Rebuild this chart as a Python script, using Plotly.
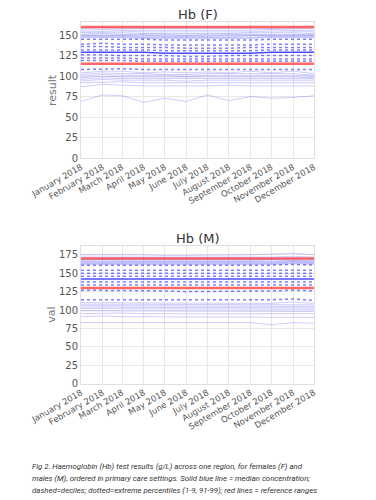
import plotly.graph_objects as go

months = ["2018-01-01", "2018-02-01", "2018-03-01", "2018-04-01", "2018-05-01", "2018-06-01",
          "2018-07-01", "2018-08-01", "2018-09-01", "2018-10-01", "2018-11-01", "2018-12-01"]

# ---- Females: percentiles 1-9, deciles 10-90, percentiles 91-99 ----
f_low = [
    [69, 77, 76, 68, 73, 69, 77, 70, 75, 73, 74, 76],
    [87, 90, 89, 88, 88, 88, 88, 89, 88, 88, 88, 88],
    [92, 93, 93, 92, 92, 92, 92, 92, 92, 92, 92, 92],
    [94, 96, 95, 95, 95, 94, 95, 95, 95, 95, 95, 95],
    [96, 98, 97, 97, 97, 97, 97, 97, 97, 97, 97, 97],
    [98, 100, 99, 99, 99, 99, 99, 99, 99, 99, 99, 98],
    [100, 102, 101, 101, 101, 100, 101, 101, 101, 101, 101, 100],
    [102, 104, 103, 103, 102, 102, 103, 103, 103, 103, 103, 101],
    [104, 106, 106, 104, 105, 104, 105, 104, 106, 104, 106, 103],
]
f_dec = [
    [108, 109, 109, 108, 108, 108, 108, 108, 108, 108, 108, 108],
    [119, 119, 119, 118, 118, 118, 118, 118, 118, 118, 118, 118],
    [122, 122, 122, 121, 121, 121, 121, 121, 121, 121, 121, 121],
    [126, 126, 125, 125, 125, 124, 124, 125, 125, 125, 125, 125],
    [129, 129, 129, 129, 128, 128, 128, 128, 128, 129, 129, 129],
    [132, 132, 132, 132, 131, 131, 131, 131, 131, 132, 132, 132],
    [136, 136, 135, 135, 135, 134, 134, 134, 135, 135, 135, 135],
    [139, 140, 139, 139, 138, 138, 138, 138, 138, 139, 139, 139],
    [145, 145, 145, 145, 144, 144, 144, 144, 144, 145, 145, 145],
]
f_high = [
    [147, 147, 147, 146, 146, 146, 146, 146, 146, 147, 147, 147],
    [148, 148, 148, 147, 147, 147, 147, 147, 147, 148, 148, 148],
    [149, 149, 149, 148, 148, 148, 148, 148, 149, 149, 149, 149],
    [150, 150, 150, 150, 149, 149, 149, 150, 150, 150, 150, 150],
    [151, 152, 151, 151, 151, 150, 151, 151, 151, 151, 151, 151],
    [153, 153, 153, 152, 152, 152, 152, 152, 153, 153, 153, 152],
    [154, 155, 155, 154, 154, 154, 154, 154, 154, 155, 155, 154],
    [156, 157, 156, 156, 156, 156, 156, 156, 156, 157, 156, 156],
    [158, 159, 158, 158, 158, 158, 158, 158, 158, 158, 158, 158],
]
f_ref = [115, 160]

# ---- Males ----
m_low = [
    [83, 83, 83, 83, 82, 82, 82, 83, 83, 80, 83, 82],
    [91, 92, 91, 91, 91, 91, 91, 91, 91, 91, 91, 90],
    [95, 96, 96, 95, 95, 95, 95, 95, 95, 95, 96, 95],
    [99, 99, 99, 99, 98, 98, 98, 99, 99, 99, 99, 98],
    [102, 102, 102, 101, 101, 101, 101, 101, 102, 101, 102, 101],
    [104, 104, 104, 104, 103, 103, 104, 104, 104, 104, 104, 103],
    [106, 106, 106, 106, 105, 105, 106, 106, 106, 106, 106, 105],
    [108, 108, 108, 108, 107, 107, 108, 108, 108, 108, 108, 107],
    [110, 110, 109, 110, 109, 109, 110, 110, 110, 109, 111, 109],
]
m_dec = [
    [114, 114, 114, 114, 113, 113, 113, 113, 114, 114, 115, 113],
    [127, 127, 126, 126, 126, 125, 125, 126, 126, 126, 127, 126],
    [134, 134, 134, 133, 133, 133, 133, 133, 133, 134, 134, 134],
    [138, 138, 138, 137, 137, 137, 137, 137, 137, 138, 138, 138],
    [142, 142, 142, 142, 141, 141, 141, 141, 141, 142, 142, 142],
    [146, 146, 146, 145, 145, 145, 145, 145, 145, 146, 146, 146],
    [150, 150, 150, 149, 149, 149, 149, 149, 149, 150, 150, 150],
    [154, 154, 154, 153, 153, 153, 153, 153, 153, 154, 154, 154],
    [161, 161, 161, 160, 160, 160, 160, 160, 160, 161, 162, 161],
]
m_high = [
    [162, 162, 162, 161, 161, 161, 161, 161, 161, 162, 163, 162],
    [163, 163, 163, 162, 162, 162, 162, 162, 162, 163, 164, 163],
    [164, 164, 164, 163, 163, 163, 163, 163, 164, 164, 165, 164],
    [165, 165, 165, 164, 164, 164, 164, 164, 165, 165, 166, 165],
    [166, 166, 166, 166, 165, 165, 165, 165, 166, 166, 167, 166],
    [167, 168, 167, 167, 167, 166, 166, 167, 167, 168, 168, 167],
    [169, 169, 169, 169, 168, 168, 168, 168, 169, 169, 170, 169],
    [172, 172, 172, 171, 171, 171, 171, 171, 172, 172, 173, 172],
    [175, 175, 176, 175, 174, 174, 174, 174, 175, 176, 177, 175],
]
m_ref = [130, 170]

titles = ["Hb (F)", "Hb (M)"]
ytitles = ["result", "val"]
yranges = [[0, 166], [0, 187]]

caption_lines = [
    "Fig 2. Haemoglobin (Hb) test results (g/L) across one region, for females (F) and",
    "males (M), ordered in primary care settings. Solid blue line = median concentration;",
    "dashed=deciles; dotted=extreme percentiles (1-9, 91-99); red lines = reference ranges",
]

fig = go.Figure()

def add_panel(idx, low, dec, high, ref):
    xa = "x" if idx == 0 else "x2"
    ya = "y" if idx == 0 else "y2"
    for s in low + high:
        fig.add_trace(go.Scatter(x=months, y=s, mode="lines", xaxis=xa, yaxis=ya,
                                 line=dict(color="rgba(0,0,255,0.2)", width=1),
                                 showlegend=False, hoverinfo="skip"))
    for i, s in enumerate(dec):
        if i == 4:
            continue
        fig.add_trace(go.Scatter(x=months, y=s, mode="lines", xaxis=xa, yaxis=ya,
                                 line=dict(color="rgba(0,0,255,0.5)", width=1.5, dash="dot"),
                                 showlegend=False, hoverinfo="skip"))
    fig.add_trace(go.Scatter(x=months, y=dec[4], mode="lines", xaxis=xa, yaxis=ya,
                             line=dict(color="rgba(0,0,255,0.7)", width=1.5),
                             showlegend=False))
    for r in ref:
        fig.add_trace(go.Scatter(x=[months[0], months[-1]], y=[r, r], mode="lines",
                                 xaxis=xa, yaxis=ya,
                                 line=dict(color="rgba(255,0,0,0.6)", width=2.5),
                                 showlegend=False, hoverinfo="skip"))

add_panel(0, f_low, f_dec, f_high, f_ref)
add_panel(1, m_low, m_dec, m_high, m_ref)

W, H = 368, 492
xdom = [0.1984, 0.8315]
ydoms = [[0.695, 0.9715], [0.2364, 0.5163]]
title_centers = [6, 230]   # figure pixel rows

axis_common = dict(showgrid=True, gridcolor="#e8e8e8", gridwidth=1,
                   showline=True, linecolor="#e0e0e0", linewidth=1, mirror=True,
                   zeroline=False, ticks="", automargin=False,
                   tickfont=dict(family="DejaVu Sans", size=10, color="#555555"))

for i in range(2):
    sfx = "" if i == 0 else "2"
    fig.update_layout(**{
        "xaxis" + sfx: dict(axis_common, domain=xdom, anchor="y" + sfx, type="date",
                            range=[months[0], months[-1]], tickvals=months,
                            tickformat="%B %Y", tickangle=-30,
                            tickfont=dict(family="DejaVu Sans", size=8.5, color="#555555")),
        "yaxis" + sfx: dict(axis_common, domain=ydoms[i], anchor="x" + sfx,
                            range=yranges[i], tick0=0, dtick=25),
    })
    fig.add_annotation(text=titles[i], xref="paper", yref="paper",
                       x=(xdom[0] + xdom[1]) / 2, y=(H - title_centers[i]) / H,
                       xanchor="center", yanchor="middle", showarrow=False,
                       font=dict(family="DejaVu Sans", size=13, color="#333333"))
    fig.add_annotation(text=ytitles[i], xref="paper", yref="paper",
                       x=44 / W, y=(ydoms[i][0] + ydoms[i][1]) / 2,
                       xanchor="center", yanchor="middle", textangle=-90, showarrow=False,
                       font=dict(family="DejaVu Sans", size=11, color="#777777"))

for k, line in enumerate(caption_lines):
    fig.add_annotation(text="<i>" + line + "</i>", xref="paper", yref="paper",
                       x=22 / W, y=(H - (459 + 11.5 * k)) / H,
                       xanchor="left", yanchor="middle", align="left",
                       showarrow=False,
                       font=dict(family="Roboto", size=7.8, color="#333333"))

fig.update_layout(width=W, height=H, margin=dict(l=0, r=0, t=0, b=0),
                  paper_bgcolor="white", plot_bgcolor="white", showlegend=False)

fig.write_html("out.html")
